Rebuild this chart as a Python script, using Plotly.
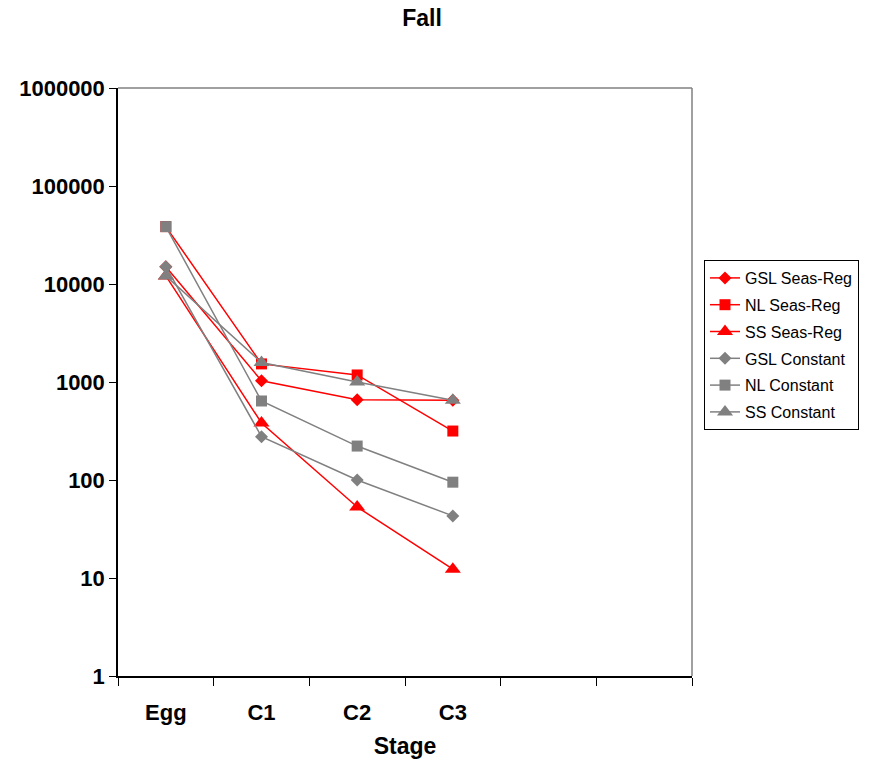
import plotly.graph_objects as go

# Life stages on the x axis (two trailing empty slots keep the axis width)
stages = ["Egg", "C1", "C2", "C3"]
axis_slots = ["Egg", "C1", "C2", "C3", " ", "  "]

# Abundance by stage for each scenario
gsl_seas_reg = [15000, 1030, 660, 650]
nl_seas_reg = [38500, 1530, 1180, 316]
ss_seas_reg = [12100, 382, 53, 12.3]
gsl_constant = [15000, 277, 100, 43]
nl_constant = [38500, 640, 222, 95]
ss_constant = [12100, 1580, 1000, 650]

y_ticks = [1, 10, 100, 1000, 10000, 100000, 1000000]
y_tick_text = ["1", "10", "100", "1000", "10000", "100000", "1000000"]

RED = "#FF0000"
GREY = "#808080"

series = [
    ("GSL Seas-Reg", gsl_seas_reg, RED, "diamond", 10),
    ("NL Seas-Reg", nl_seas_reg, RED, "square", 11),
    ("SS Seas-Reg", ss_seas_reg, RED, "triangle-up", 14),
    ("GSL Constant", gsl_constant, GREY, "diamond", 10),
    ("NL Constant", nl_constant, GREY, "square", 11),
    ("SS Constant", ss_constant, GREY, "triangle-up", 14),
]

fig = go.Figure()
for name, values, color, symbol, size in series:
    fig.add_trace(go.Scatter(
        x=stages, y=values, name=name, mode="lines+markers",
        legendgroup=name,
        line=dict(color=color, width=1.5),
        marker=dict(color=color, symbol=symbol, size=size,
                    line=dict(color=color, width=0)),
    ))

FONT = "Liberation Sans, Arial, sans-serif"

fig.update_layout(
    width=874, height=763,
    margin=dict(l=118, r=182, t=88, b=87),
    paper_bgcolor="white", plot_bgcolor="white",
    font=dict(family=FONT, color="black"),
    title=dict(text="Fall", x=422 / 874, xanchor="center", xref="container",
               y=1 - 18 / 763, yanchor="middle", yref="container",
               font=dict(size=23, weight="bold", family=FONT)),
    showlegend=True,
    legend=dict(x=(704 - 118) / 574, xanchor="left",
                y=(676 - 260) / 588, yanchor="top",
                bordercolor="black", borderwidth=1, bgcolor="white",
                font=dict(size=16, family=FONT),
                tracegroupgap=3),
    xaxis=dict(
        type="category", categoryorder="array", categoryarray=axis_slots,
        range=[-0.5, 5.5], tickson="boundaries", automargin=False,
        ticks="outside", ticklen=8, tickcolor="black", tickwidth=1,
        ticklabelstandoff=16,
        showline=True, linecolor="black", linewidth=1.5,
        showgrid=False, zeroline=False,
        tickfont=dict(size=22, weight="bold", family=FONT),
        title=dict(text="Stage", standoff=14,
                   font=dict(size=23, weight="bold", family=FONT)),
    ),
    yaxis=dict(
        type="log", range=[0, 6], automargin=False,
        tickvals=y_ticks, ticktext=y_tick_text,
        ticks="outside", ticklen=7, tickcolor="black", tickwidth=1,
        showline=True, linecolor="black", linewidth=1.5,
        showgrid=False, zeroline=False,
        tickfont=dict(size=22, weight="bold", family=FONT),
    ),
    shapes=[
        dict(type="line", xref="paper", yref="paper", x0=0, x1=1, y0=1, y1=1,
             line=dict(color=GREY, width=1.5)),
        dict(type="line", xref="paper", yref="paper", x0=1, x1=1, y0=0, y1=1,
             line=dict(color=GREY, width=1.5)),
    ],
)

fig.write_html("out.html")
